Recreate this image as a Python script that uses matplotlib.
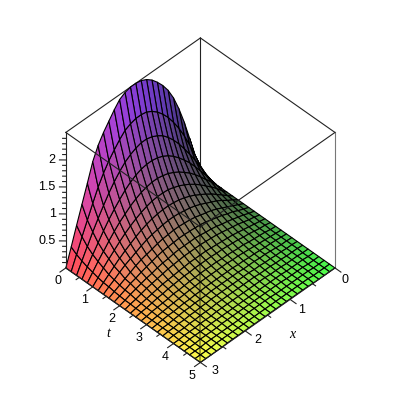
import numpy as np
import matplotlib
matplotlib.use("Agg")
import matplotlib.pyplot as plt
from mpl_toolkits.mplot3d import proj3d

x_vals = [0.12 * i for i in range(26)]
t_vals = [0.2 * i for i in range(26)]
z_top = 2.51

# height, one row per t line, one column per x line
u_rows = [
    [0, .40, .79, 1.16, 1.48, 1.75, 1.96, 2.12, 2.25, 2.36, 2.44, 2.49, 2.51, 2.51, 2.48, 2.42, 2.30, 2.16, 2.02, 1.85, 1.62, 1.29, .97, .65, .32, 0],
    [0, .28, .55, .81, 1.05, 1.26, 1.44, 1.60, 1.73, 1.84, 1.92, 1.98, 2.00, 2.00, 1.97, 1.92, 1.82, 1.70, 1.57, 1.41, 1.22, .99, .75, .51, .25, 0],
    [0, .20, .40, .60, .78, .95, 1.11, 1.25, 1.37, 1.47, 1.54, 1.59, 1.62, 1.62, 1.59, 1.54, 1.47, 1.37, 1.25, 1.11, .95, .78, .60, .40, .20, 0],
    [0, .16, .32, .47, .62, .76, .88, .99, 1.09, 1.17, 1.23, 1.27, 1.29, 1.29, 1.27, 1.23, 1.17, 1.09, .99, .88, .76, .62, .47, .32, .16, 0],
    [0, .13, .26, .38, .50, .61, .71, .79, .87, .93, .98, 1.01, 1.03, 1.03, 1.01, .98, .93, .87, .79, .71, .61, .50, .38, .26, .13, 0],
    [0, .10, .21, .31, .40, .49, .57, .64, .70, .75, .79, .82, .83, .83, .82, .79, .75, .70, .64, .57, .49, .40, .31, .21, .10, 0],
    [0, .08, .16, .24, .32, .39, .45, .51, .56, .60, .63, .65, .66, .66, .65, .63, .60, .56, .51, .45, .39, .32, .24, .16, .08, 0],
    [0, .07, .13, .20, .26, .31, .36, .41, .45, .48, .50, .52, .53, .53, .52, .50, .48, .45, .41, .36, .31, .26, .20, .13, .07, 0],
    [0, .05, .10, .15, .20, .25, .29, .32, .35, .38, .40, .41, .42, .42, .41, .40, .38, .35, .32, .29, .25, .20, .15, .10, .05, 0],
    [0, .04, .08, .13, .16, .20, .23, .26, .29, .31, .32, .33, .34, .34, .33, .32, .31, .29, .26, .23, .20, .16, .13, .08, .04, 0],
    [0, .03, .07, .10, .13, .16, .18, .21, .23, .24, .26, .27, .27, .27, .27, .26, .24, .23, .21, .18, .16, .13, .10, .07, .03, 0],
    [0, .03, .05, .08, .11, .13, .15, .17, .19, .20, .21, .22, .22, .22, .22, .21, .20, .19, .17, .15, .13, .11, .08, .05, .03, 0],
    [0, .02, .04, .06, .08, .10, .12, .13, .14, .15, .16, .17, .17, .17, .17, .16, .15, .14, .13, .12, .10, .08, .06, .04, .02, 0],
    [0, .02, .03, .05, .07, .08, .10, .11, .12, .13, .13, .14, .14, .14, .14, .13, .13, .12, .11, .10, .08, .07, .05, .03, .02, 0],
    [0, .01, .03, .04, .05, .06, .08, .08, .09, .10, .10, .11, .11, .11, .11, .10, .10, .09, .08, .08, .06, .05, .04, .03, .01, 0],
    [0, .01, .02, .03, .04, .05, .06, .07, .08, .08, .09, .09, .09, .09, .09, .09, .08, .08, .07, .06, .05, .04, .03, .02, .01, 0],
    [0, .01, .02, .03, .03, .04, .05, .05, .06, .06, .07, .07, .07, .07, .07, .07, .06, .06, .05, .05, .04, .03, .03, .02, .01, 0],
    [0, .01, .01, .02, .03, .04, .04, .05, .05, .05, .06, .06, .06, .06, .06, .06, .05, .05, .05, .04, .04, .03, .02, .01, .01, 0],
    [0, .01, .01, .02, .02, .03, .03, .04, .04, .05, .05, .05, .05, .05, .05, .05, .05, .04, .04, .03, .03, .02, .02, .01, .01, 0],
    [0, .01, .01, .01, .02, .02, .03, .03, .03, .04, .04, .04, .04, .04, .04, .04, .04, .03, .03, .03, .02, .02, .01, .01, .01, 0],
    [0, 0, .01, .01, .01, .02, .02, .02, .03, .03, .03, .03, .03, .03, .03, .03, .03, .03, .02, .02, .02, .01, .01, .01, 0, 0],
    [0, 0, .01, .01, .01, .01, .02, .02, .02, .02, .02, .02, .02, .02, .02, .02, .02, .02, .02, .02, .01, .01, .01, .01, 0, 0],
    [0, 0, 0, .01, .01, .01, .01, .02, .02, .02, .02, .02, .02, .02, .02, .02, .02, .02, .02, .01, .01, .01, .01, 0, 0, 0],
    [0, 0, 0, .01, .01, .01, .01, .01, .01, .01, .02, .02, .02, .02, .02, .02, .01, .01, .01, .01, .01, .01, .01, 0, 0, 0],
    [0, 0, 0, 0, .01, .01, .01, .01, .01, .01, .01, .01, .01, .01, .01, .01, .01, .01, .01, .01, .01, .01, 0, 0, 0, 0],
    [0, 0, 0, 0, 0, .01, .01, .01, .01, .01, .01, .01, .01, .01, .01, .01, .01, .01, .01, .01, .01, 0, 0, 0, 0, 0],
]

t_major = [0, 1, 2, 3, 4, 5]
t_minor = [0.5, 1.5, 2.5, 3.5, 4.5]
x_major = [0, 1, 2, 3]
x_minor = [0.5, 1.5, 2.5]
z_major = [0.5, 1, 1.5, 2]
z_minor = [i / 10 for i in range(1, 25) if i % 5 != 0]
z_labels = ["0.5", "1", "1.5", "2"]


def surface_colors(X, Y, Z):
    # red follows x, green follows t, blue follows height, then a soft light from the x side
    base = np.dstack([X / 3, Y / 5, Z / z_top])
    base = 0.29 + 0.71 * base
    dz_t, dz_x = np.gradient(Z / z_top, Y[:, 0] / 5, X[0] / 3)
    n = np.dstack([-dz_x, -dz_t, np.ones_like(Z)])
    n /= np.linalg.norm(n, axis=2, keepdims=True)
    light = np.array([0.6, 0.1, 0.8])
    shade = np.clip(0.76 + 0.31 * (n @ light), 0.74, 1.05)[..., None]
    return np.clip(base * shade, 0, 1)


def edge(ax, a, b, z=3, **kw):
    ax.plot(*zip(a, b), color=kw.pop("color", "#222222"), lw=kw.pop("lw", 0.8), zorder=z, **kw)


def label(ax, x, y, z, s, **kw):
    # place the text at the projected spot so it stays a plain 2D text
    px, py, _ = proj3d.proj_transform(x, y, z, ax.get_proj())
    ax.text2D(px, py, s, transform=ax.transData, zorder=5, color="black", **kw)


def main():
    fig = plt.figure(figsize=(4, 4), dpi=100)
    ax = fig.add_axes([-0.0125, -0.014, 1, 1], projection="3d", proj_type="ortho")
    ax.computed_zorder = False
    ax.view_init(elev=44.6, azim=45)
    ax.set_box_aspect((1, 1, 1), zoom=0.80)
    ax.set_xlim(0, 3, view_margin=0)
    ax.set_ylim(0, 5, view_margin=0)
    ax.set_zlim(0, z_top, view_margin=0)
    ax.set_axis_off()

    X, Y = np.meshgrid(x_vals, t_vals)
    Z = np.array(u_rows)

    # box edges behind the surface
    edge(ax, (3, 0, z_top), (0, 0, z_top), z=1)
    edge(ax, (0, 0, z_top), (0, 5, z_top), z=1)
    edge(ax, (0, 0, 0), (0, 0, z_top), z=1)
    edge(ax, (0, 5, 0), (0, 5, z_top), z=1, color="#777777")

    ax.plot_surface(X, Y, Z, facecolors=surface_colors(X, Y, Z), rcount=26, ccount=26,
                    shade=False, edgecolor="black", linewidth=0.8, zorder=2)

    # box edges in front
    edge(ax, (3, 0, z_top), (3, 5, z_top))
    edge(ax, (3, 5, z_top), (0, 5, z_top))
    edge(ax, (3, 5, 0), (3, 5, z_top), color="black", alpha=0.45, lw=1.2)
    edge(ax, (3, 0, 0), (3, 0, z_top))
    edge(ax, (3, 0, 0), (3, 5, 0))
    edge(ax, (3, 5, 0), (0, 5, 0))

    # ticks
    for t in t_major:
        edge(ax, (3, t, 0), (3.13, t, 0), z=4)
    for t in t_minor:
        edge(ax, (3, t, 0), (3.07, t, 0), z=4)
    for v in x_major:
        edge(ax, (v, 5, 0), (v, 5.22, 0), z=4)
    for v in x_minor:
        edge(ax, (v, 5, 0), (v, 5.11, 0), z=4)
    for v in z_major:
        edge(ax, (3, 0, v), (3.07, -0.12, v), z=4)
    for v in z_minor:
        edge(ax, (3, 0, v), (3.035, -0.06, v), z=4)

    font = dict(family="Liberation Sans", fontsize=9)
    for t in t_major:
        label(ax, 3.18, t, -0.145, str(t), ha="center", va="center", **font)
    for v in x_major:
        # these labels sit a little closer together than their ticks
        label(ax, v * 0.967, 5.37, -0.085, str(v), ha="center", va="center", **font)
    for v, lab in zip(z_major, z_labels):
        label(ax, 3.11, -0.19, v, lab, ha="right", va="center", **font)

    label(ax, 3.5, 2.42, -0.08, "t", family="Liberation Serif", style="italic", fontsize=10,
          ha="center", va="center")
    label(ax, 1.47, 5.85, -0.08, "x", family="Liberation Serif", style="italic", fontsize=10,
          ha="center", va="center")

    fig.savefig("out.png", dpi=100)


if __name__ == "__main__":
    main()
